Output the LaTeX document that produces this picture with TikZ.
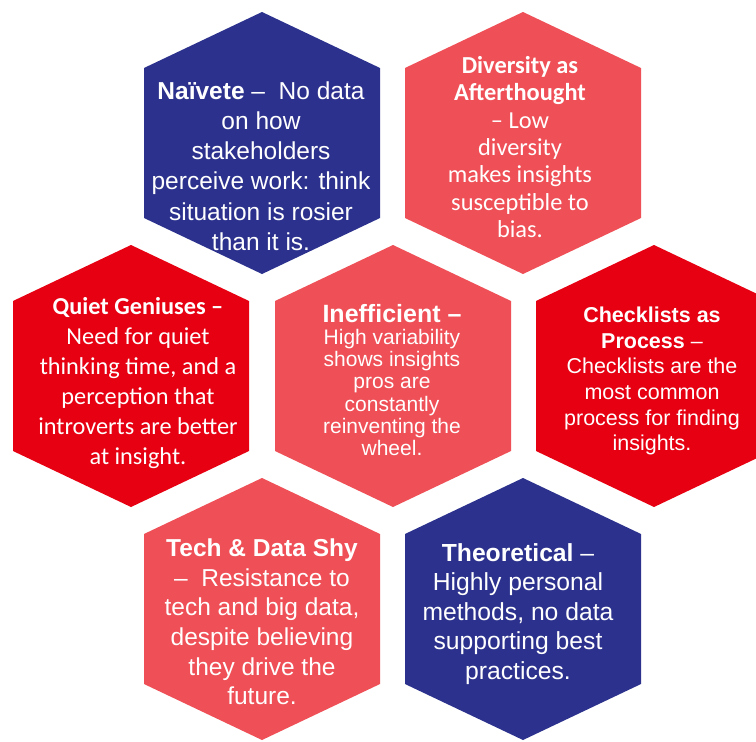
\documentclass[tikz,border=0pt]{standalone}
\usepackage{fontspec}
\setmainfont{Liberation Sans}
\newfontfamily\calib{Carlito}
\definecolor{hexnavy}{HTML}{2B318C}
\definecolor{hexcoral}{HTML}{EF4F56}
\definecolor{hexred}{HTML}{E60012}
\newcommand\hexcell[3]{\fill[#3] (#1,#2) ++(0,-131) -- ++(118,56) -- ++(0,150) -- ++(-118,56) -- ++(-118,-56) -- ++(0,-150) -- cycle;}
\tikzset{
  hextext/.style={text=white, align=center, inner sep=0pt},
}
\begin{document}
\begin{tikzpicture}[x=1pt,y=-1pt]
\clip (0,0) rectangle (756,742);
\fill[white] (0,0) rectangle (756,742);
% hexagons
\hexcell{262}{143}{hexnavy}
\hexcell{523}{143}{hexcoral}
\hexcell{131}{376}{hexred}
\hexcell{393}{376}{hexcoral}
\hexcell{654}{376}{hexred}
\hexcell{262}{609}{hexcoral}
\hexcell{523}{609}{hexnavy}
% texts
\node[hextext, font=\fontsize{24.5}{30.3}\selectfont] (naivete) at (261,166)
  {\textbf{Naïvete} –\ \ No data\\on how\\stakeholders\\perceive work: think\\situation is rosier\\than it is.};
\node[hextext, font=\calib\fontsize{24.4}{27.3}\selectfont] (diversity) at (520,147)
  {\textbf{Diversity as}\\\textbf{Afterthought}\\– Low\\diversity\\makes insights\\susceptible to\\bias.};
\node[hextext, font=\calib\fontsize{24.3}{30}\selectfont] (quiet) at (138,383)
  {\textbf{Quiet Geniuses –}\\Need for quiet\\thinking time, and a\\perception that\\introverts are better\\at insight.};
\node[hextext, font=\fontsize{21}{22.2}\selectfont] (inefficient) at (392,380)
  {{\fontsize{25}{26}\selectfont\textbf{Inefficient –}}\\High variability\\shows insights\\pros are\\constantly\\reinventing the\\wheel.};
\node[hextext, font=\fontsize{21.5}{25.7}\selectfont] (checklists) at (652,381)
  {\textbf{Checklists as}\\\textbf{Process} –\\Checklists are the\\most common\\process for finding\\insights.};
\node[hextext, font=\fontsize{24.5}{29.6}\selectfont] (techshy) at (262,622)
  {\textbf{Tech \& Data Shy}\\–\ \ Resistance to\\tech and big data,\\despite believing\\they drive the\\future.};
\node[hextext, font=\fontsize{24.7}{29.6}\selectfont] (theoretical) at (518,614)
  {\textbf{Theoretical} –\\Highly personal\\methods, no data\\supporting best\\practices.};
\end{tikzpicture}
\end{document}
